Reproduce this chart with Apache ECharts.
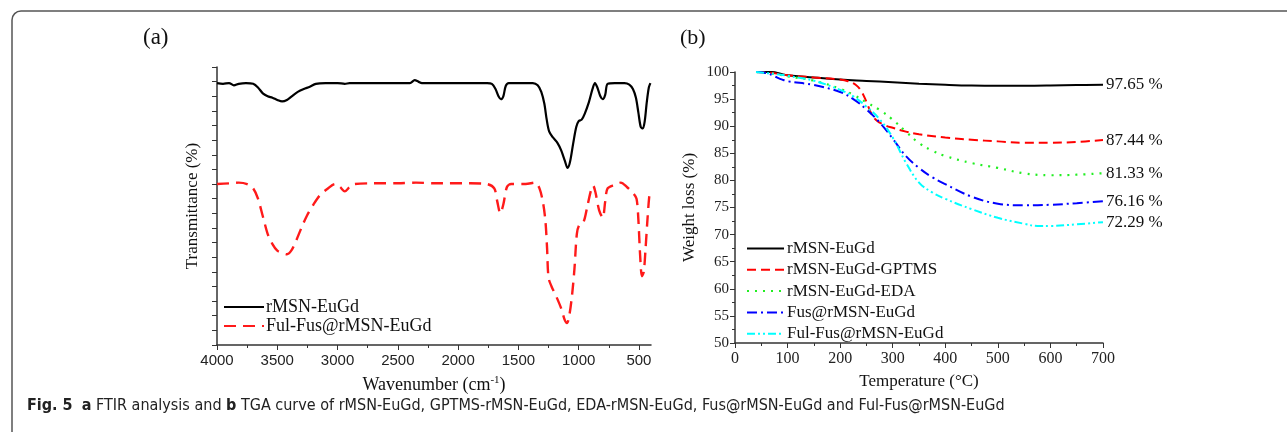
<!DOCTYPE html>
<html>
<head>
<meta charset="utf-8">
<script src="https://cdn.jsdelivr.net/npm/echarts@6/dist/echarts.min.js"></script>
<style>
  html, body { margin: 0; padding: 0; background: #fff; }
  #chart { width: 1287px; height: 432px; }
</style>
</head>
<body>
<div id="chart"></div>
<script>
// (a) FTIR: [wavenumber cm-1, transmittance in tick units (arbitrary)]
const ftirBare = [
  [4000, 17.9], [3950, 17.85], [3900, 17.9], [3860, 17.75], [3820, 17.85], [3760, 17.9], [3700, 17.85],
  [3660, 17.6], [3620, 17.2], [3580, 17.0], [3540, 16.9], [3500, 16.75], [3460, 16.65], [3420, 16.75],
  [3380, 17.0], [3330, 17.3], [3280, 17.5], [3230, 17.65], [3180, 17.85], [3100, 17.9], [3000, 17.9],
  [2940, 17.85], [2900, 17.9], [2800, 17.9], [2700, 17.9], [2600, 17.9], [2480, 17.9], [2400, 17.9],
  [2360, 18.1], [2330, 18.0], [2300, 17.9], [2150, 17.9], [2000, 17.9], [1850, 17.9], [1760, 17.9],
  [1720, 17.85], [1690, 17.5], [1665, 17.0], [1645, 16.8], [1625, 17.0], [1605, 17.7], [1580, 17.9],
  [1450, 17.9], [1380, 17.9], [1340, 17.75], [1310, 17.3], [1285, 16.5], [1265, 15.4], [1245, 14.6],
  [1215, 14.2], [1175, 13.8], [1145, 13.3], [1115, 12.6], [1092, 12.1], [1072, 12.5], [1045, 13.8],
  [1020, 14.9], [1000, 15.3], [975, 15.4], [950, 15.8], [915, 16.6], [885, 17.5], [865, 17.9],
  [845, 17.6], [820, 17.0], [800, 16.8], [780, 17.1], [760, 17.85], [700, 17.9], [620, 17.9],
  [580, 17.8], [550, 17.5], [525, 16.9], [505, 15.9], [485, 14.9], [468, 14.8], [452, 15.3],
  [435, 16.6], [418, 17.6], [405, 17.9]
];
const ftirLoaded = [
  [4000, 11.0], [3900, 11.05], [3820, 11.1], [3750, 11.0], [3700, 10.7], [3660, 10.0], [3620, 8.8],
  [3580, 7.6], [3540, 6.9], [3500, 6.45], [3460, 6.3], [3420, 6.2], [3380, 6.5], [3340, 7.2],
  [3300, 8.0], [3250, 8.9], [3200, 9.6], [3150, 10.2], [3080, 10.7], [3020, 11.0], [2980, 10.8],
  [2940, 10.5], [2900, 10.8], [2860, 11.0], [2700, 11.05], [2500, 11.05], [2350, 11.1], [2200, 11.05],
  [1900, 11.05], [1760, 11.0], [1700, 10.7], [1675, 9.8], [1650, 9.0], [1625, 9.6], [1595, 10.8],
  [1560, 11.0], [1440, 11.0], [1360, 11.1], [1325, 10.7], [1295, 9.7], [1275, 8.4], [1262, 6.6],
  [1250, 4.6], [1225, 4.0], [1185, 3.3], [1145, 2.5], [1115, 1.7], [1097, 1.5], [1078, 2.0],
  [1055, 3.4], [1035, 5.2], [1015, 7.6], [995, 8.2], [960, 8.4], [930, 9.4], [900, 10.5],
  [880, 10.9], [860, 10.4], [830, 9.2], [800, 8.7], [780, 9.8], [760, 10.7], [700, 10.95],
  [650, 11.1], [600, 10.8], [550, 10.4], [520, 10.0], [505, 8.6], [490, 6.1], [475, 4.7],
  [460, 5.0], [445, 6.6], [430, 8.5], [415, 10.1], [405, 10.5]
];
const ftirTickLabels = [500, 1000, 1500, 2000, 2500, 3000, 3500, 4000];
const ftirMinorTicks = [750, 1250, 1750, 2250, 2750, 3250, 3750];

// (b) TGA: [temperature °C, weight %]
const tgaBare = [
  [40, 100], [70, 100], [90, 99.6], [100, 99.4], [150, 99.0], [200, 98.6], [250, 98.35], [300, 98.1],
  [350, 97.85], [400, 97.65], [450, 97.5], [500, 97.45], [550, 97.45], [600, 97.5], [650, 97.6], [700, 97.65]
];
const tgaGptms = [
  [40, 100], [60, 99.9], [80, 99.7], [100, 99.4], [150, 99.0], [200, 98.6], [215, 98.3], [230, 97.6],
  [240, 96.5], [250, 94.5], [260, 92.2], [270, 91.0], [285, 90.2], [300, 89.7], [325, 89.0], [350, 88.5],
  [400, 87.9], [450, 87.5], [500, 87.2], [550, 86.95], [600, 86.95], [650, 87.1], [700, 87.44]
];
const tgaEda = [
  [40, 100], [60, 99.8], [80, 99.6], [100, 99.2], [150, 98.4], [200, 96.9], [225, 95.8], [250, 94.4],
  [275, 93.0], [300, 91.2], [325, 89.0], [350, 86.9], [375, 85.5], [400, 84.5], [450, 83.2], [500, 82.3],
  [550, 81.3], [600, 80.95], [650, 81.05], [700, 81.33]
];
const tgaFus = [
  [40, 100], [60, 99.8], [75, 99.2], [90, 98.6], [100, 98.3], [150, 97.6], [200, 96.3], [225, 95.0],
  [250, 93.1], [275, 90.7], [300, 87.7], [325, 84.5], [350, 82.3], [375, 80.6], [400, 79.3], [450, 77.0],
  [500, 75.7], [550, 75.4], [600, 75.5], [650, 75.8], [700, 76.16]
];
const tgaFulFus = [
  [40, 100], [60, 99.8], [80, 99.6], [100, 99.3], [150, 98.4], [200, 96.7], [225, 95.5], [250, 93.6],
  [275, 91.3], [300, 87.9], [325, 83.3], [350, 79.6], [375, 77.8], [400, 76.6], [450, 74.7], [500, 73.1],
  [550, 72.0], [575, 71.6], [600, 71.6], [650, 71.9], [700, 72.29]
];
const tgaNames = ['rMSN-EuGd', 'rMSN-EuGd-GPTMS', 'rMSN-EuGd-EDA', 'Fus@rMSN-EuGd', 'Ful-Fus@rMSN-EuGd'];

const SERIF = '"Liberation Serif", "Times New Roman", serif';
const SANS = '"Liberation Sans", Arial, sans-serif';
const NARROW = '"Liberation Sans Narrow", "DejaVu Sans Condensed", sans-serif';

const chart = echarts.init(document.getElementById('chart'), null, { renderer: 'canvas' });

const axisLine = { show: true, lineStyle: { color: '#333', width: 1.5 } };

function tgaLine(name, data, color, type, width) {
  return {
    name, type: 'line', xAxisIndex: 2, yAxisIndex: 1, data,
    symbol: 'none', smooth: 0.4,
    lineStyle: { color, width: width || 2, type },
    itemStyle: { color },
    endLabel: {
      show: true, distance: 3, color: '#111', fontFamily: SERIF, fontSize: 17,
      formatter: (p) => p.value[1].toFixed(2) + ' %'
    }
  };
}

chart.setOption({
  animation: false,
  grid: [
    { left: 217, top: 67, width: 434, height: 278 },
    { left: 735, top: 72, width: 368, height: 271 }
  ],
  xAxis: [
    {
      gridIndex: 0, type: 'value', inverse: true, min: 400, max: 4000,
      axisLine,
      axisTick: { show: true, length: 5, customValues: ftirTickLabels, lineStyle: { color: '#333' } },
      axisLabel: {
        customValues: ftirTickLabels, color: '#222', fontFamily: SANS, fontSize: 15, margin: 8,
        formatter: (v) => String(v)
      },
      splitLine: { show: false },
      name: 'Wavenumber (cm{sup|-1})', nameLocation: 'middle', nameGap: 30,
      nameTextStyle: {
        color: '#111', fontFamily: SERIF, fontSize: 18,
        rich: { sup: { fontFamily: SERIF, fontSize: 11, verticalAlign: 'top', padding: [0, 0, 10, 0] } }
      }
    },
    {
      gridIndex: 0, type: 'value', inverse: true, min: 400, max: 4000, position: 'bottom',
      axisLine: { show: false },
      axisTick: { show: true, length: 3, customValues: ftirMinorTicks, lineStyle: { color: '#333' } },
      axisLabel: { show: false }, splitLine: { show: false }
    },
    {
      gridIndex: 1, type: 'value', min: 0, max: 700, interval: 100,
      axisLine,
      axisTick: { length: 5, lineStyle: { color: '#333' } },
      minorTick: { show: true, splitNumber: 2, length: 3, lineStyle: { color: '#333' } },
      axisLabel: { color: '#222', fontFamily: SERIF, fontSize: 16, margin: 8 },
      splitLine: { show: false },
      name: 'Temperature (°C)', nameLocation: 'middle', nameGap: 30,
      nameTextStyle: { color: '#111', fontFamily: SERIF, fontSize: 17 }
    }
  ],
  yAxis: [
    {
      gridIndex: 0, type: 'value', min: 0, max: 19, interval: 1,
      axisLine,
      axisTick: { show: true, length: 5, lineStyle: { color: '#333' } },
      axisLabel: { show: false }, splitLine: { show: false },
      name: 'Transmittance (%)', nameLocation: 'middle', nameGap: 16,
      nameTextStyle: { color: '#111', fontFamily: SERIF, fontSize: 17 }
    },
    {
      gridIndex: 1, type: 'value', min: 50, max: 100, interval: 5,
      axisLine,
      axisTick: { show: true, length: 5, lineStyle: { color: '#333' } },
      minorTick: { show: true, splitNumber: 2, length: 3, lineStyle: { color: '#333' } },
      axisLabel: { color: '#222', fontFamily: SERIF, fontSize: 15, margin: 6 },
      splitLine: { show: false },
      name: 'Weight loss (%)', nameLocation: 'middle', nameGap: 37,
      nameTextStyle: { color: '#111', fontFamily: SERIF, fontSize: 17 }
    }
  ],
  legend: [
    {
      data: ['FTIR rMSN-EuGd', 'FTIR Ful-Fus@rMSN-EuGd'],
      formatter: (n) => n.replace('FTIR ', ''),
      orient: 'vertical', left: 218, top: 293, itemWidth: 40, itemHeight: 12, itemGap: 1,
      itemStyle: { opacity: 0 },
      textStyle: { color: '#111', fontFamily: SERIF, fontSize: 18, padding: [0, 0, 0, -3] },
      selectedMode: false
    },
    {
      data: tgaNames,
      orient: 'vertical', left: 741, top: 235, itemWidth: 37, itemHeight: 12, itemGap: 4.3,
      itemStyle: { opacity: 0 },
      textStyle: { color: '#111', fontFamily: SERIF, fontSize: 17, padding: [0, 0, 0, -2] },
      selectedMode: false
    }
  ],
  graphic: [
    {
      type: 'rect', silent: true,
      shape: { x: 12, y: 11, width: 1400, height: 600, r: 9 },
      style: { fill: 'none', stroke: '#555', lineWidth: 1.5 }
    },
    {
      type: 'text', left: 143, top: 26,
      style: { text: '(a)', fontFamily: SERIF, fontSize: 23, fill: '#111' }
    },
    {
      type: 'text', left: 680, top: 27,
      style: { text: '(b)', fontFamily: SERIF, fontSize: 22, fill: '#111' }
    },
    {
      type: 'text', left: 27, top: 398,
      style: {
        text: '{b|Fig. 5}  {b|a} FTIR analysis and {b|b} TGA curve of rMSN-EuGd, GPTMS-rMSN-EuGd, EDA-rMSN-EuGd, Fus@rMSN-EuGd and Ful-Fus@rMSN-EuGd',
        fontFamily: NARROW, fontSize: 16, fill: '#222',
        rich: { b: { fontWeight: 'bold', fontFamily: NARROW, fontSize: 16, fill: '#222' } }
      }
    }
  ],
  series: [
    {
      name: 'FTIR rMSN-EuGd', type: 'line', xAxisIndex: 0, yAxisIndex: 0, data: ftirBare,
      symbol: 'none', smooth: 0.3,
      lineStyle: { color: '#000', width: 2.2 }, itemStyle: { color: '#000' }
    },
    {
      name: 'FTIR Ful-Fus@rMSN-EuGd', type: 'line', xAxisIndex: 0, yAxisIndex: 0, data: ftirLoaded,
      symbol: 'none', smooth: 0.3,
      lineStyle: { color: '#ff1a1a', width: 2.4, type: [12, 7] }, itemStyle: { color: '#ff1a1a' }
    },
    tgaLine(tgaNames[0], tgaBare, '#000', 'solid', 2),
    tgaLine(tgaNames[1], tgaGptms, '#ff0000', [9, 5], 2),
    tgaLine(tgaNames[2], tgaEda, '#22ee22', [2, 6], 2.2),
    tgaLine(tgaNames[3], tgaFus, '#0000ff', [10, 4, 2, 4], 2),
    tgaLine(tgaNames[4], tgaFulFus, '#00ffff', [8, 3, 2, 3, 2, 3], 2)
  ]
});
</script>
</body>
</html>
